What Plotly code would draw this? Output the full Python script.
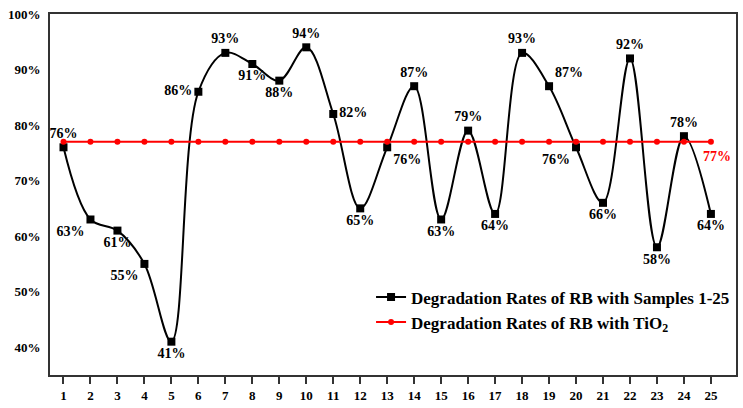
import plotly.graph_objects as go

samples = list(range(1, 26))
rates = [76, 63, 61, 55, 41, 86, 93, 91, 88, 94, 82, 65, 76, 87, 63, 79, 64, 93, 87, 76, 66, 92, 58, 78, 64]
tio2 = [77] * 25
label_pos = ["top center", "bottom left", "bottom center", "bottom left", "bottom center",
             "middle left", "top center", "bottom center", "bottom center", "top center",
             "middle right", "bottom center", "bottom right", "top center", "bottom center",
             "top center", "bottom center", "top center", "top right", "bottom left",
             "bottom center", "top center", "bottom center", "top center", "bottom center"]
y_ticks = [40, 50, 60, 70, 80, 90, 100]

font_family = "Liberation Serif"

fig = go.Figure()
fig.add_trace(go.Scatter(
    x=samples, y=rates, mode="lines+markers+text",
    name="<b>Degradation Rates of RB with Samples 1-25</b>",
    line=dict(color="black", width=2, shape="spline", smoothing=1.0),
    marker=dict(symbol="square", size=8, color="black"),
    text=[f"<b>{v}%</b>" for v in rates], textposition=label_pos,
    textfont=dict(family=font_family, size=14, color="black"),
    cliponaxis=False,
))
fig.add_trace(go.Scatter(
    x=samples, y=tio2, mode="lines+markers",
    name="<b>Degradation Rates of RB with TiO<sub>2</sub></b>",
    line=dict(color="#ff0000", width=2),
    marker=dict(symbol="circle", size=6, color="#ff0000"),
))
fig.add_annotation(
    x=samples[-1], y=tio2[-1], text=f"<b>{tio2[-1]}%</b>", showarrow=False,
    xshift=6, yshift=-15, font=dict(family=font_family, size=14, color="#ff0000"),
)

fig.update_layout(
    width=743, height=408,
    margin=dict(l=50, r=5, t=14, b=31),
    plot_bgcolor="white", paper_bgcolor="white",
    font=dict(family=font_family, size=13, color="black"),
    showlegend=True,
    legend=dict(x=0.468, y=0.265, xanchor="left", yanchor="top",
                bgcolor="rgba(0,0,0,0)", font=dict(family=font_family, size=17, color="black"),
                itemwidth=30, tracegroupgap=0),
)
fig.update_xaxes(range=[0.5, 25.93], tickmode="array", tickvals=samples,
                 ticktext=[f"<b>{s}</b>" for s in samples],
                 showline=True, linecolor="#333", linewidth=2, mirror=True,
                 ticks="outside", ticklen=7, tickwidth=1.5, tickcolor="#333",
                 showgrid=False, zeroline=False, tickfont=dict(size=13))
fig.update_yaxes(range=[35, 100], tickmode="array", tickvals=y_ticks,
                 ticktext=[f"<b>{v}%</b>" for v in y_ticks],
                 showline=True, linecolor="#333", linewidth=2, mirror=True,
                 ticks="", showgrid=False, zeroline=False, tickfont=dict(size=13),
                 ticklabelstandoff=5)

fig.write_html("out.html")
